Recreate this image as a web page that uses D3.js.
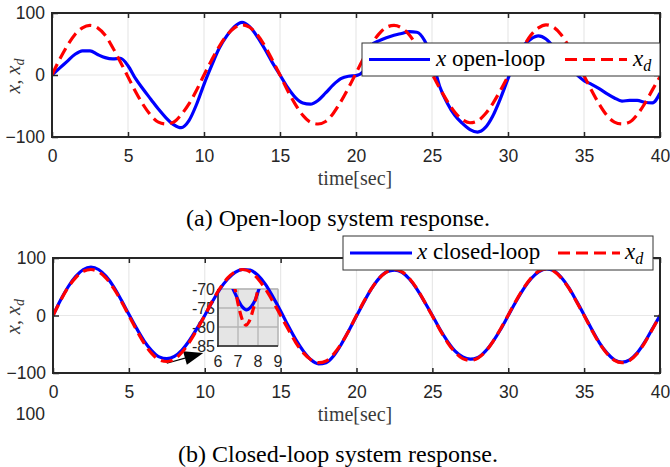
<!DOCTYPE html>
<html>
<head>
<meta charset="utf-8">
<script src="https://cdn.jsdelivr.net/npm/d3@7"></script>
<style>
  body { margin: 0; background: #fff; }
</style>
</head>
<body>
<svg id="chart" width="670" height="467" font-family="Liberation Sans, Arial, sans-serif"></svg>
<script>
// sample times, every 0.5 s from 0 to 40
const time = d3.range(0, 40.25, 0.5);

// (a) open-loop
const openX = [0, 11, 22, 33, 39, 39, 33, 28, 26, 27,
  15, -6, -23, -39, -55, -69, -80, -85, -74, -48,
  -15, 15, 43, 63, 78, 85, 78, 62, 42, 20,
  0, -20, -36, -45, -47, -41, -29, -16, -6, -2,
  -1, 6, 48, 55, 60, 64, 67, 70, 69, 56,
  26, -18, -45, -65, -78, -88, -92, -85, -66, -38,
  -6, 26, 47, 58, 63, 58, 45, 28, 12, 1,
  -9, -15, -22, -30, -37, -42, -41, -41, -44, -45,
  -29];
const openXd = [0, 25, 47, 65, 76, 80, 76, 64, 44, 21,
  -3, -27, -48, -65, -76, -79, -76, -64, -47, -25,
  0, 24, 46, 64, 76, 81, 77, 65, 47, 24,
  0, -25, -47, -65, -76, -79, -75, -62, -43, -21,
  3, 27, 49, 66, 77, 80, 76, 65, 47, 25,
  2, -21, -42, -60, -72, -77, -74, -63, -46, -25,
  -2, 22, 45, 64, 76, 81, 77, 65, 46, 23,
  -1, -25, -47, -65, -76, -79, -76, -64, -46, -24,
  -3];

// (b) closed-loop
const closedX = [0, 27, 50, 68, 80, 84, 80, 68, 50, 27,
  2, -22, -44, -61, -72, -75, -71, -60, -43, -22,
  0, 24, 46, 63, 75, 80, 79, 70, 54, 32,
  8, -18, -42, -62, -77, -84, -82, -70, -50, -26,
  -1, 24, 47, 65, 76, 79, 75, 63, 45, 23,
  0, -24, -45, -62, -72, -76, -73, -62, -45, -24,
  0, 24, 46, 64, 76, 81, 78, 66, 48, 25,
  1, -24, -47, -65, -77, -81, -77, -65, -46, -23,
  0];
const closedXd = [0, 26, 49, 66, 77, 80, 76, 65, 47, 25,
  0, -25, -48, -66, -77, -80, -76, -64, -46, -24,
  0, 25, 47, 65, 76, 80, 76, 64, 46, 24,
  0, -24, -47, -65, -77, -82, -79, -67, -49, -26,
  0, 25, 47, 65, 76, 80, 76, 64, 46, 23,
  -1, -25, -47, -64, -75, -78, -74, -63, -45, -23,
  1, 25, 47, 65, 77, 81, 77, 65, 47, 24,
  0, -25, -48, -66, -78, -82, -78, -66, -47, -24,
  0];

// zoomed inset of (b)
const insetTimeX = [6.5, 6.75, 7.0, 7.2, 7.42, 7.65, 7.85, 8.05, 8.3];
const insetX = [-67.5, -70, -72.8, -74.6, -75.5, -74.7, -73, -70, -66.5];
const insetTimeXd = [6.6, 6.85, 7.05, 7.25, 7.4, 7.55, 7.75, 8.0, 8.2];
const insetXd = [-65, -70, -75, -78.5, -79.5, -78.6, -75.5, -70, -65];

const xTicks = [0, 5, 10, 15, 20, 25, 30, 35, 40];
const yTicks = [-100, 0, 100];
const insetXTicks = [6, 7, 8, 9];
const insetYTicks = [-85, -80, -75, -70];

const BLUE = "#0000ff";
const RED = "#ff0000";
const AXIS = "#262626";
const GRID = "#e8e8e8";
const DASH = "12,6";
const SERIF = "Liberation Serif, 'DejaVu Serif', serif";

const svg = d3.select("#chart");

function mathLabel(sel, parts, size) {
  // parts: [text, italic, subscript]
  parts.forEach(([t, it, sub]) => {
    const ts = sel.append("tspan").text(t)
      .attr("font-style", it ? "italic" : "normal");
    if (sub) ts.attr("font-size", size * 0.7).attr("dy", size * 0.22);
  });
}

function drawPanel(p) {
  const x = d3.scaleLinear().domain([0, 40]).range([p.left, p.right]);
  const y = d3.scaleLinear().domain([-100, 100]).range([p.bottom, p.top]);
  const g = svg.append("g");

  g.append("g").selectAll("line").data(xTicks).join("line")
    .attr("x1", d => x(d)).attr("x2", d => x(d))
    .attr("y1", p.top).attr("y2", p.bottom)
    .attr("stroke", GRID).attr("stroke-width", 1.2);
  g.append("g").selectAll("line").data(yTicks).join("line")
    .attr("y1", d => y(d)).attr("y2", d => y(d))
    .attr("x1", p.left).attr("x2", p.right)
    .attr("stroke", GRID).attr("stroke-width", 1.2);

  if (p.inset) drawInset(g, p, x, y);

  g.append("clipPath").attr("id", p.id).append("rect")
    .attr("x", p.left).attr("y", p.top)
    .attr("width", p.right - p.left).attr("height", p.bottom - p.top);

  const line = d3.line()
    .x((d, i) => x(time[i]))
    .y(d => y(d))
    .curve(d3.curveMonotoneX);

  g.append("path").datum(p.x)
    .attr("clip-path", `url(#${p.id})`)
    .attr("d", line).attr("fill", "none")
    .attr("stroke", BLUE).attr("stroke-width", 3.2);
  g.append("path").datum(p.xd)
    .attr("clip-path", `url(#${p.id})`)
    .attr("d", line).attr("fill", "none")
    .attr("stroke", RED).attr("stroke-width", 3.2)
    .attr("stroke-dasharray", DASH);

  // axes, ticks inward on all sides
  const styleAxis = a => {
    a.select(".domain").remove();
    a.attr("font-family", null);
    a.selectAll(".tick line").attr("stroke", AXIS).attr("stroke-width", 1.5);
    a.selectAll(".tick text").attr("fill", AXIS).attr("font-size", 17.5);
  };
  g.append("g").attr("transform", `translate(0,${p.bottom})`)
    .call(d3.axisBottom(x).tickValues(xTicks).tickSize(-5).tickSizeOuter(0).tickPadding(13))
    .call(styleAxis);
  g.append("g").attr("transform", `translate(0,${p.top})`)
    .call(d3.axisTop(x).tickValues(xTicks).tickSize(-5).tickSizeOuter(0).tickFormat(""))
    .call(styleAxis);
  g.append("g").attr("transform", `translate(${p.left},0)`)
    .call(d3.axisLeft(y).tickValues(yTicks).tickSize(-6).tickSizeOuter(0).tickPadding(7))
    .call(styleAxis);
  g.append("g").attr("transform", `translate(${p.right},0)`)
    .call(d3.axisRight(y).tickValues(yTicks).tickSize(-6).tickSizeOuter(0).tickFormat(""))
    .call(styleAxis);

  g.append("rect")
    .attr("x", p.left).attr("y", p.top)
    .attr("width", p.right - p.left).attr("height", p.bottom - p.top)
    .attr("fill", "none").attr("stroke", AXIS).attr("stroke-width", 2);

  // axis labels
  const yl = g.append("text")
    .attr("transform", `translate(20,${(p.top + p.bottom) / 2 + 1}) rotate(-90)`)
    .attr("text-anchor", "middle").attr("fill", "#3a3a3a")
    .attr("font-family", SERIF).attr("font-size", 20);
  mathLabel(yl, [["x", true], [", ", false], ["x", true], ["d", true, true]], 20);

  g.append("text")
    .attr("x", 355).attr("y", p.bottom + 48)
    .attr("text-anchor", "middle").attr("fill", "#3a3a3a")
    .attr("font-family", SERIF).attr("font-size", 20)
    .text("time[sec]");

  g.append("text")
    .attr("x", 338).attr("y", p.captionY)
    .attr("text-anchor", "middle").attr("fill", "#000")
    .attr("font-family", SERIF).attr("font-size", 24)
    .text(p.caption);

  drawLegend(p.legend);
  return { x, y };
}

function drawInset(g, p, x, y) {
  const r = p.inset;
  const ix = d3.scaleLinear().domain([6, 9]).range([r.left, r.right]);
  const iy = d3.scaleLinear().domain([-85, -70]).range([r.bottom, r.top]);
  const ig = g.append("g");

  ig.append("rect").attr("x", r.left).attr("y", r.top)
    .attr("width", r.right - r.left).attr("height", r.bottom - r.top)
    .attr("fill", "#e5e5e5").attr("stroke", "#c8c8c8").attr("stroke-width", 1);
  ig.append("g").selectAll("line").data(insetXTicks).join("line")
    .attr("x1", d => ix(d)).attr("x2", d => ix(d))
    .attr("y1", r.top).attr("y2", r.bottom)
    .attr("stroke", "#b4b4b4").attr("stroke-width", 1.3);
  ig.append("g").selectAll("line").data(insetYTicks).join("line")
    .attr("y1", d => iy(d)).attr("y2", d => iy(d))
    .attr("x1", r.left).attr("x2", r.right)
    .attr("stroke", "#b4b4b4").attr("stroke-width", 1.3);

  ig.append("clipPath").attr("id", "insetclip").append("rect")
    .attr("x", r.left).attr("y", r.top)
    .attr("width", r.right - r.left).attr("height", r.bottom - r.top);

  ig.append("path").datum(insetTimeX.map((t, i) => [t, insetX[i]]))
    .attr("clip-path", "url(#insetclip)")
    .attr("d", d3.line().x(d => ix(d[0])).y(d => iy(d[1])).curve(d3.curveCatmullRom))
    .attr("fill", "none").attr("stroke", BLUE).attr("stroke-width", 3.2);
  ig.append("path").datum(insetTimeXd.map((t, i) => [t, insetXd[i]]))
    .attr("clip-path", "url(#insetclip)")
    .attr("d", d3.line().x(d => ix(d[0])).y(d => iy(d[1])).curve(d3.curveCatmullRom))
    .attr("fill", "none").attr("stroke", RED).attr("stroke-width", 3.2)
    .attr("stroke-dasharray", "9,5");

  ig.append("line").attr("x1", r.left).attr("x2", r.left)
    .attr("y1", r.top).attr("y2", r.bottom + 1)
    .attr("stroke", AXIS).attr("stroke-width", 1.5);
  ig.append("line").attr("x1", r.left - 1).attr("x2", r.right)
    .attr("y1", r.bottom).attr("y2", r.bottom)
    .attr("stroke", AXIS).attr("stroke-width", 1.5);

  ig.append("g").selectAll("text").data(insetYTicks).join("text")
    .attr("x", r.left - 3).attr("y", d => iy(d)).attr("dy", "0.35em")
    .attr("text-anchor", "end").attr("font-size", 16).attr("fill", AXIS)
    .text(d => d);
  ig.append("g").selectAll("text").data(insetXTicks).join("text")
    .attr("x", d => ix(d)).attr("y", r.bottom + 21)
    .attr("text-anchor", "middle").attr("font-size", 16).attr("fill", AXIS)
    .text(d => d);

  // arrow from the trough to the inset
  const [t0, v0] = r.arrowFrom, [t1, v1] = r.arrowTo;
  const ax0 = x(t0), ay0 = y(v0), ax1 = x(t1), ay1 = y(v1);
  const ang = Math.atan2(ay1 - ay0, ax1 - ax0);
  const hl = 19, hw = 7;
  const bx = ax1 - hl * Math.cos(ang), by = ay1 - hl * Math.sin(ang);
  ig.append("line").attr("x1", ax0).attr("y1", ay0).attr("x2", bx).attr("y2", by)
    .attr("stroke", "#000").attr("stroke-width", 1.2);
  ig.append("path")
    .attr("d", `M${ax1},${ay1}L${bx + hw * Math.sin(ang)},${by - hw * Math.cos(ang)}L${bx - hw * Math.sin(ang)},${by + hw * Math.cos(ang)}Z`)
    .attr("fill", "#000");
}

function drawLegend(L) {
  const g = svg.append("g");
  g.append("rect").attr("x", L.x).attr("y", L.y).attr("width", L.w).attr("height", L.h)
    .attr("fill", "#fff").attr("stroke", "#333").attr("stroke-width", 1);
  const cy = L.y + L.h / 2;
  g.append("line").attr("x1", L.b0).attr("x2", L.b1).attr("y1", cy).attr("y2", cy)
    .attr("stroke", BLUE).attr("stroke-width", 3.2);
  g.append("line").attr("x1", L.r0).attr("x2", L.r1).attr("y1", cy).attr("y2", cy)
    .attr("stroke", RED).attr("stroke-width", 3.2).attr("stroke-dasharray", DASH);
  const t1 = g.append("text").attr("x", L.t0).attr("y", cy + 6)
    .attr("font-family", SERIF).attr("font-size", 23).attr("fill", "#000");
  mathLabel(t1, [["x", true], ["\u00a0" + L.label, false]], 23);
  const t2 = g.append("text").attr("x", L.t1).attr("y", cy + 6)
    .attr("font-family", SERIF).attr("font-size", 23).attr("fill", "#000");
  mathLabel(t2, [["x", true], ["d", true, true]], 23);
}

drawPanel({
  id: "clipA", left: 52, right: 660, top: 13, bottom: 137,
  x: openX, xd: openXd,
  caption: "(a) Open-loop system response.", captionY: 226,
  legend: { x: 362, y: 43, w: 298, h: 33, b0: 369, b1: 430, t0: 436, label: "open-loop",
            r0: 565, r1: 627, t1: 633 }
});

drawPanel({
  id: "clipB", left: 53, right: 660, top: 258, bottom: 373,
  x: closedX, xd: closedXd,
  caption: "(b) Closed-loop system response.", captionY: 462,
  legend: { x: 343, y: 236, w: 310, h: 34, b0: 350, b1: 412, t0: 417, label: "closed-loop",
            r0: 558, r1: 620, t1: 625 },
  inset: { left: 218, right: 278, top: 289, bottom: 346,
           arrowFrom: [7.5, -83], arrowTo: [9.9, -65] }
});

// stray tick label below panel (b)
svg.append("text").attr("x", 45).attr("y", 420)
  .attr("text-anchor", "end").attr("font-size", 17.5).attr("fill", AXIS)
  .text("100");
</script>
</body>
</html>
